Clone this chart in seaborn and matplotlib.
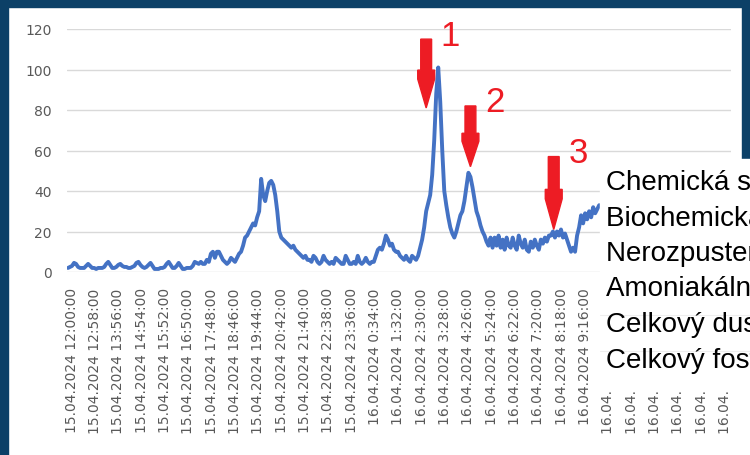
import numpy as np
import pandas as pd
import seaborn as sns
import matplotlib.pyplot as plt
from matplotlib.patches import Rectangle, Polygon
from matplotlib.transforms import ScaledTranslation

# namerane hodnoty, krok 5 minut od 15.04.2024 12:00
h12 = [2, 2.5, 3, 4.5, 4, 2.5, 2, 2, 2, 3, 4, 3]
h13 = [2, 2, 1.5, 2, 2, 2, 2.5, 4, 5, 3.5, 2, 2]
h14 = [2.5, 3.5, 4, 3, 2.5, 2.5, 2, 2, 2.5, 3, 4.5, 5]
h15 = [3.5, 2.5, 2, 2.5, 3.5, 4.5, 3, 1.5, 1.5, 1.5, 2, 2]
h16 = [2.5, 4, 5, 3.5, 2, 2, 3, 4.5, 3, 1.5, 1.5, 2]
h17 = [2, 2, 3, 5, 4.5, 4, 5, 4, 4, 6, 5, 9]
h18 = [10, 7, 10, 10, 8, 6, 5, 4, 5, 7, 6, 5]
h19 = [7, 9, 10, 13, 17, 18, 20, 22, 24, 23, 27, 30]
h20 = [46, 38, 35, 40, 44, 45, 43, 38, 30, 20, 17, 16]
h21 = [15, 14, 13, 12, 13, 11, 10, 9, 8, 7, 8, 6]
h22 = [6, 5, 8, 7, 5, 4, 5, 8, 6, 5, 4, 5]
h23 = [4, 7, 6, 5, 4, 4, 8, 6, 4, 4, 5, 4]
h00 = [8, 5, 4, 5, 7, 5, 4, 5, 5, 8, 11, 12]
h01 = [11, 14, 18, 16, 13, 14, 11, 10, 10, 8, 7, 6]
h02 = [8, 6, 5, 8, 7, 6, 8, 12, 16, 22, 30, 34]
h03 = [38, 48, 65, 88, 101, 84, 60, 40, 33, 27, 22, 19]
h04 = [17, 20, 24, 28, 30, 35, 42, 49, 47, 42, 36, 30]
h05 = [27, 23, 20, 18, 15, 13, 17, 12, 17, 13, 18, 12]
h06 = [16, 11, 17, 13, 12, 17, 13, 11, 18, 14, 12, 16]
h07 = [11, 10, 15, 12, 16, 13, 11, 16, 14, 17, 15, 18]
h08 = [18, 20, 17, 20, 18, 21, 17, 19, 16, 13, 10, 12]
h09 = [10, 18, 22, 28, 24, 29, 26, 30, 27, 32, 29, 31, 33]
values = (h12 + h13 + h14 + h15 + h16 + h17 + h18 + h19 + h20 + h21 + h22 + h23
          + h00 + h01 + h02 + h03 + h04 + h05 + h06 + h07 + h08 + h09)
step_min = 5

tick_step = 58
tick_labels = [
    '15.04.2024 12:00:00', '15.04.2024 12:58:00', '15.04.2024 13:56:00',
    '15.04.2024 14:54:00', '15.04.2024 15:52:00', '15.04.2024 16:50:00',
    '15.04.2024 17:48:00', '15.04.2024 18:46:00', '15.04.2024 19:44:00',
    '15.04.2024 20:42:00', '15.04.2024 21:40:00', '15.04.2024 22:38:00',
    '15.04.2024 23:36:00', '16.04.2024 0:34:00', '16.04.2024 1:32:00',
    '16.04.2024 2:30:00', '16.04.2024 3:28:00', '16.04.2024 4:26:00',
    '16.04.2024 5:24:00', '16.04.2024 6:22:00', '16.04.2024 7:20:00',
    '16.04.2024 8:18:00', '16.04.2024 9:16:00', '16.04.2024 10:14:00',
    '16.04.2024 11:12:00', '16.04.2024 12:10:00', '16.04.2024 13:08:00',
    '16.04.2024 14:06:00', '16.04.2024 15:04:00',
]

legend_names = ['Chemická spotreba kyslíka', 'Biochemická spotreba kyslíka',
                'Nerozpustené látky', 'Amoniakálny dusík', 'Celkový dusík',
                'Celkový fosfor']

# sipky nad vrcholmi (minuta, horny okraj, spicka)
arrow_minute = [890, 1000, 1207]
arrow_top = [115, 82, 57]
arrow_tip = [81, 52, 21]
arrow_text = ['1', '2', '3']

df = pd.DataFrame({'minuta': np.arange(len(values)) * step_min, 'hodnota': values})

sns.set_style('white')
plt.rcParams['font.family'] = ['DejaVu Sans']

fig = plt.figure(figsize=(7.5, 4.56), dpi=100)
fig.patch.set_facecolor('white')
ax = fig.add_axes([67 / 750, 183 / 456, 664 / 750, 243 / 456])

sns.lineplot(data=df, x='minuta', y='hodnota', ax=ax, color='#4472c4',
             linewidth=2.8, solid_joinstyle='round')

ax.set_xlim(-2.5, 1647.5)
ax.set_ylim(0, 120)
ax.set_yticks(range(0, 121, 20))
ax.yaxis.grid(True, color='#d9d9d9', linewidth=1.0)
ax.set_axisbelow(True)
for s in ax.spines.values():
    s.set_visible(False)
ax.set_xlabel('')
ax.set_ylabel('')
ax.tick_params(axis='y', length=0, pad=11, labelsize=10, labelcolor='#595959')
ax.tick_params(axis='x', length=0, pad=11, labelsize=10, labelcolor='#595959')
ax.set_xticks(np.arange(len(tick_labels)) * tick_step)
ax.set_xticklabels(tick_labels, rotation=90, va='top', ha='center')
shift = ScaledTranslation(3.5 / 100, 0, fig.dpi_scale_trans)
for lab in ax.get_xticklabels():
    lab.set_transform(lab.get_transform() + shift)

# cervene sipky s cislami
sx, hx = 13.5, 21.0
for m, top, tip, t in zip(arrow_minute, arrow_top, arrow_tip, arrow_text):
    neck = tip + (top - tip) * 0.55
    shoulder = tip + (top - tip) * 0.42
    pts = [(m - sx, top), (m + sx, top), (m + sx, neck), (m + hx, neck),
           (m + hx, shoulder), (m, tip), (m - hx, shoulder), (m - hx, neck),
           (m - sx, neck)]
    ax.add_patch(Polygon(pts, closed=True, color='#ed1c24', zorder=5, clip_on=False))
    ax.text(m + 60, top + 2, t, color='#ed1c24', fontsize=25, ha='center', va='center',
            family=['Liberation Sans'], clip_on=False, zorder=6)

# okraj
blue = '#0c4067'
fig.patches.append(Rectangle((0, 0), 8 / 750, 1, transform=fig.transFigure, color=blue, zorder=10))
fig.patches.append(Rectangle((0, 1 - 8 / 456), 1, 8 / 456, transform=fig.transFigure, color=blue, zorder=10))
fig.patches.append(Rectangle((742 / 750, 1 - 160 / 456), 8 / 750, 160 / 456,
                             transform=fig.transFigure, color=blue, zorder=10))

# prekryvajuci box s nazvami ukazovatelov
box_top, box_bot = 160, 391
fig.patches.append(Rectangle((600 / 750, 1 - box_bot / 456), 150 / 750, (box_bot - box_top) / 456,
                             transform=fig.transFigure, color='white', zorder=20))
for i, name in enumerate(legend_names):
    y = 183 + i * 35.5
    fig.text(606 / 750, 1 - y / 456, name, fontsize=20, color='black', va='center',
             ha='left', family=['Liberation Sans'], zorder=21)
for y in (316, 352):
    fig.lines.append(plt.Line2D([600 / 750, 1], [1 - y / 456] * 2, transform=fig.transFigure,
                                color='#eeeeee', linewidth=0.8, zorder=21))

plt.savefig('out.png', dpi=100)
